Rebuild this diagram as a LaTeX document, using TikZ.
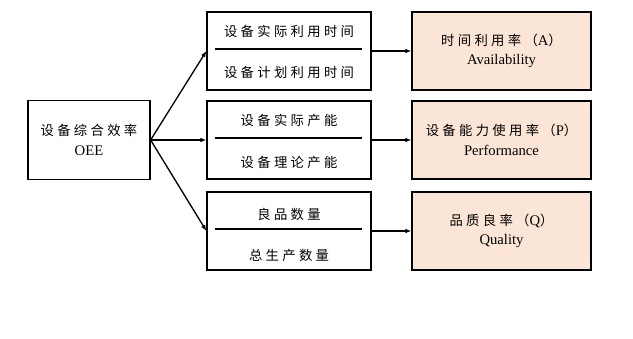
\documentclass[tikz,border=0pt]{standalone}
\usepackage{fontspec}
\setmainfont{Liberation Serif}
\newfontfamily\cjk[LetterSpace=25]{Noto Sans CJK SC}
\newcommand{\zh}[1]{{\fontsize{10}{14.25}\selectfont\cjk #1}}
\usetikzlibrary{arrows.meta,calc}
\definecolor{peach}{HTML}{FBE5D6}
\tikzset{
  box/.style={draw, line width=0.9pt, align=center, inner sep=0pt,
    font=\fontsize{11}{14.5}\selectfont},
  midbox/.style={box, minimum width=123pt, minimum height=58.5pt},
  resbox/.style={box, fill=peach, minimum width=134.25pt, minimum height=58.5pt},
  frac/.style={font=\fontsize{10}{12}\selectfont\cjk},
  link/.style={line width=1pt, -{Latex[length=4.5pt,width=3.5pt]}}
}
\begin{document}
\begin{tikzpicture}[x=0.75pt, y=-0.75pt]
\useasboundingbox (0,0) rectangle (633,339);

% OEE
\node[box, minimum width=91.5pt, minimum height=59.25pt] (oee) at (89,140)
  {\zh{设备综合效率}\\OEE};

% Ratio boxes
\node[midbox] (mA) at (289,51) {};
\node[midbox] (mP) at (289,140) {};
\node[midbox] (mQ) at (289,231) {};

\node[frac] (mAnum) at (289,31) {设备实际利用时间};
\node[frac] (mAden) at (289,72) {设备计划利用时间};
\node[frac] (mPnum) at (289,120) {设备实际产能};
\node[frac] (mPden) at (289,162) {设备理论产能};
\node[frac] (mQnum) at (289,214) {良品数量};
\node[frac] (mQden) at (289,255) {总生产数量};

% Fraction bars
\foreach \m in {mA,mP,mQ}{
  \draw[line width=0.9pt] ($(\m.west)+(9,-2)$) -- ($(\m.east)+(-10,-2)$);
}

% Results
\node[resbox] (rA) at (501.5,51) {\zh{时间利用率（}A\zh{）}\\Availability};
\node[resbox] (rP) at (501.5,140) {\zh{设备能力使用率（}P\zh{）}\\Performance};
\node[resbox] (rQ) at (501.5,231) {\zh{品质良率（}Q\zh{）}\\Quality};

% Arrows
\draw[link] (oee.east) -- (mA.west);
\draw[link] (oee.east) -- (mP.west);
\draw[link] (oee.east) -- (mQ.west);
\draw[link] (mA.east) -- (rA.west);
\draw[link] (mP.east) -- (rP.west);
\draw[link] (mQ.east) -- (rQ.west);

\end{tikzpicture}
\end{document}
